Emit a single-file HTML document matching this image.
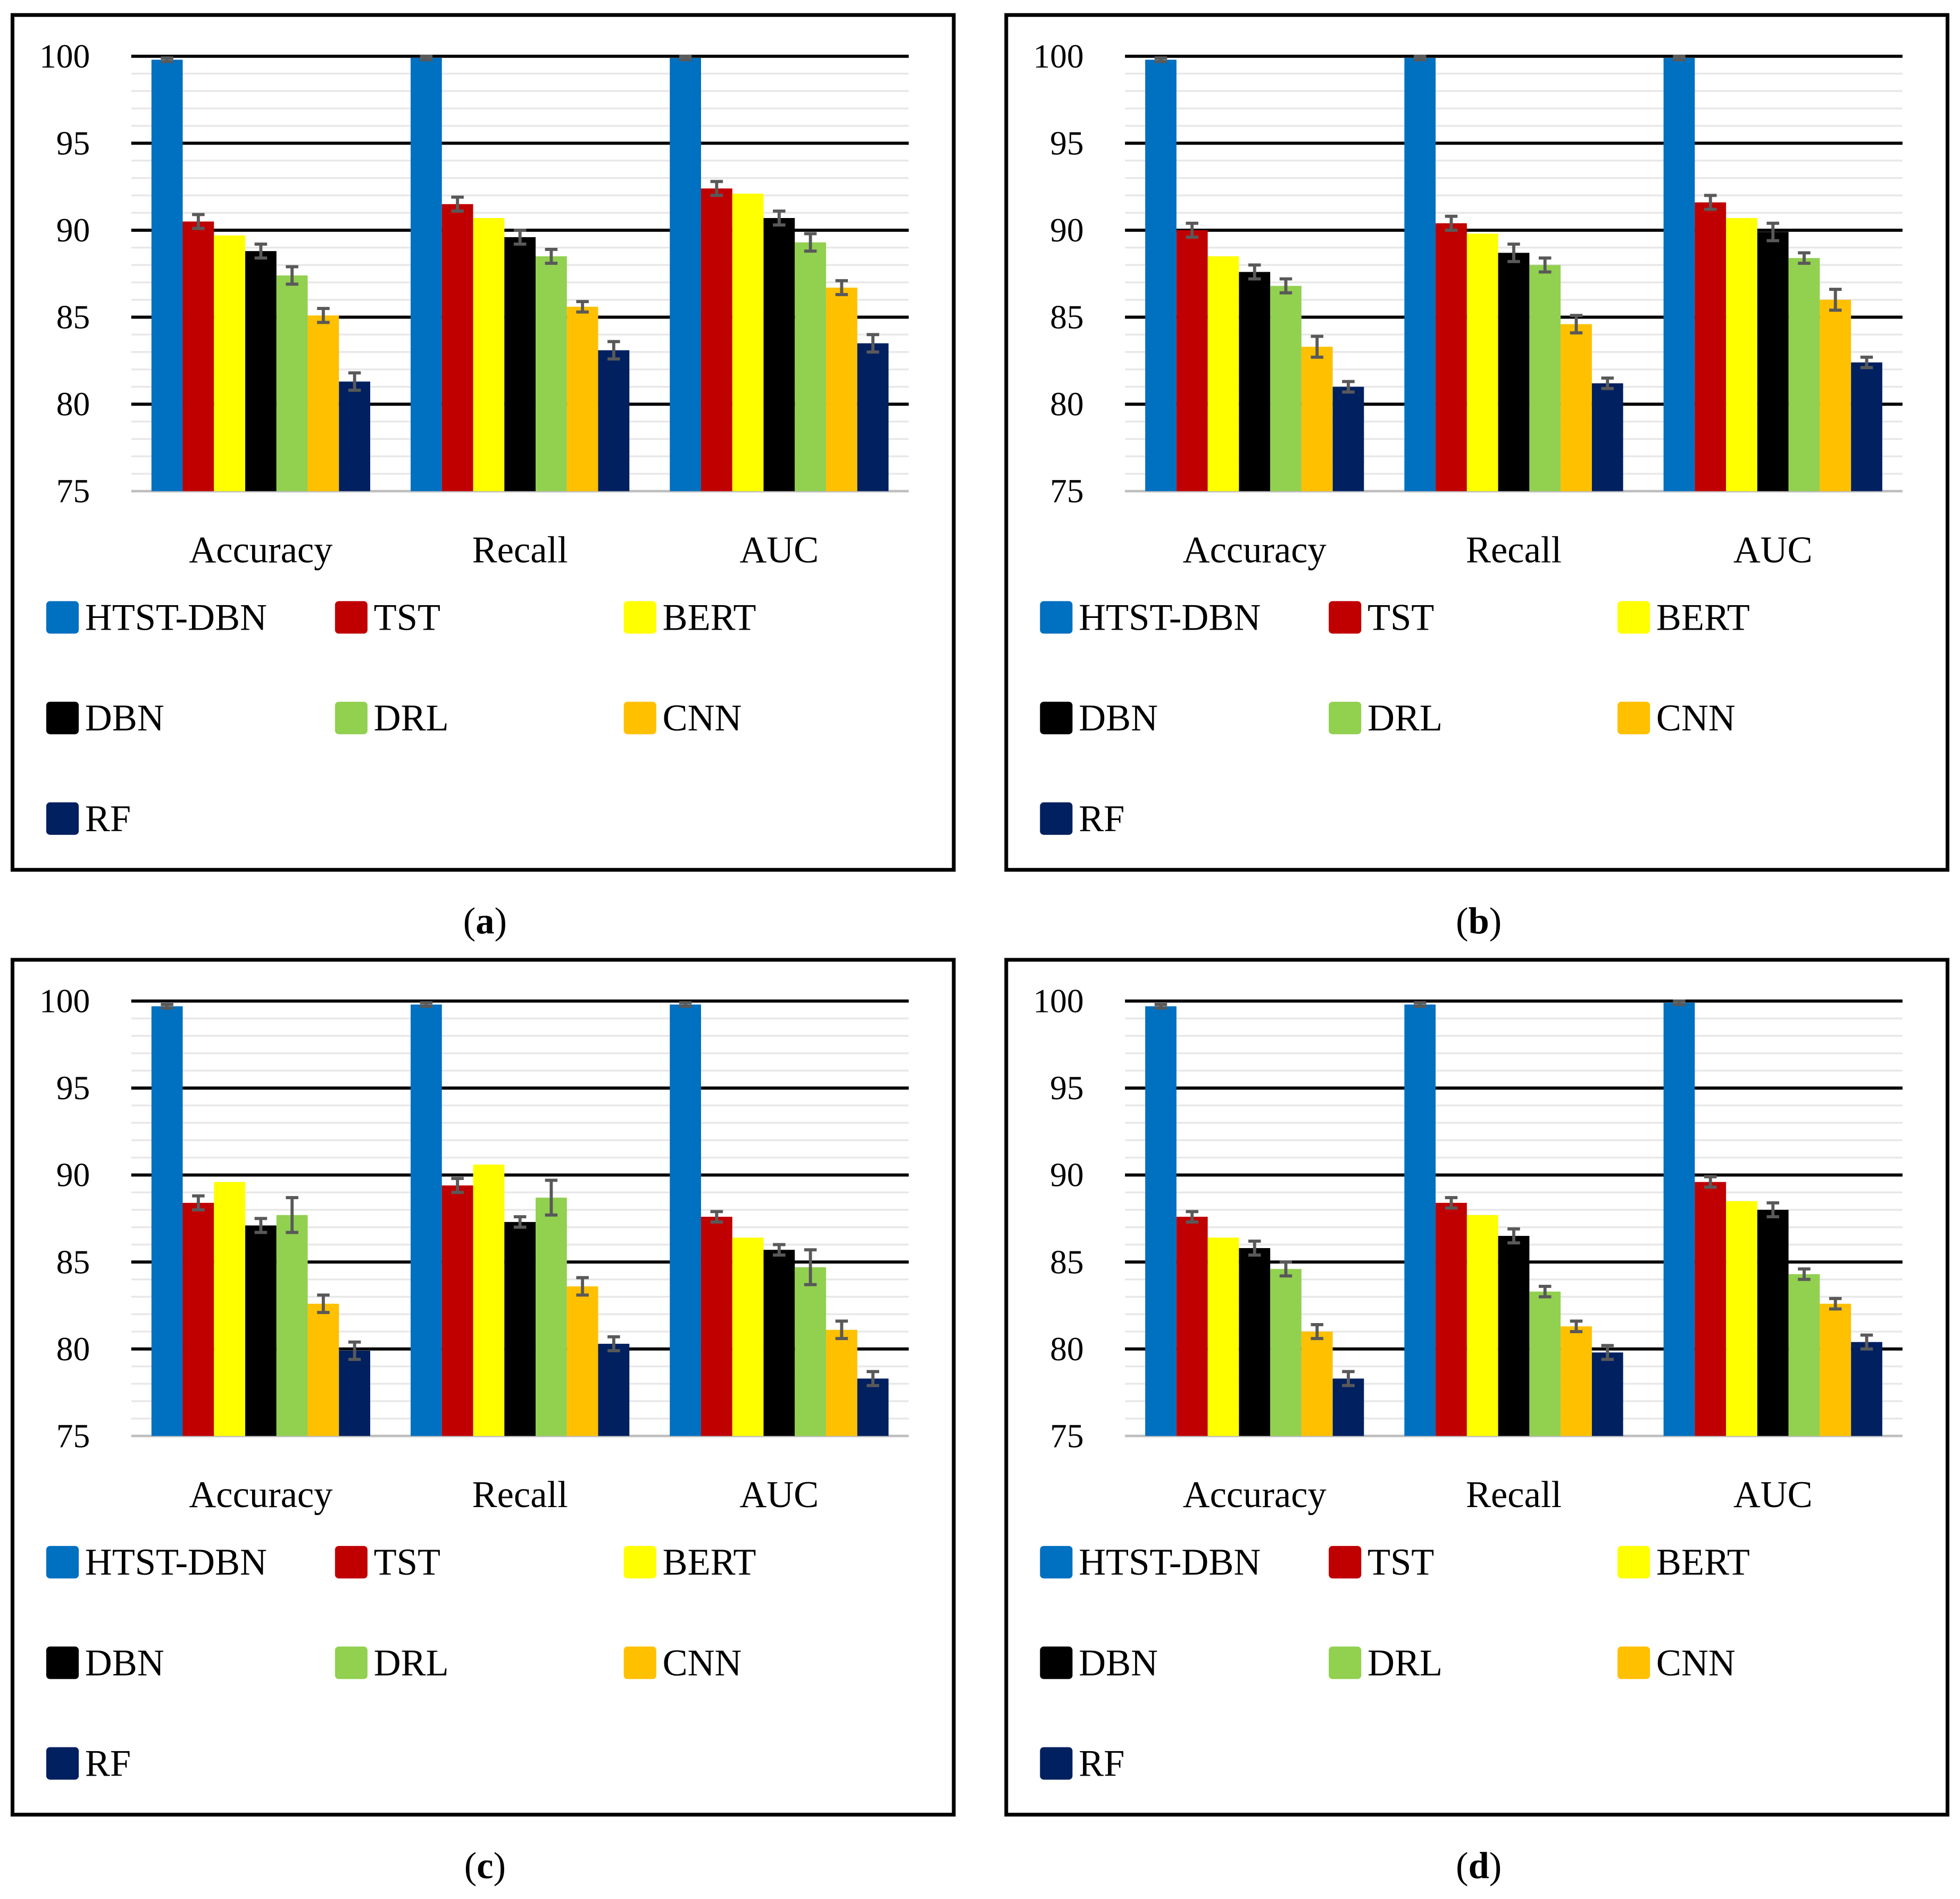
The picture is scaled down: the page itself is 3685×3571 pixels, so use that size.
<!DOCTYPE html>
<html><head><meta charset="utf-8"><style>
html,body{margin:0;padding:0;background:#fff}
svg{display:block}
text{font-family:"Liberation Serif",serif}
</style></head><body>
<svg id="root" width="3685" height="3571" viewBox="0 0 1568 1519.5" preserveAspectRatio="none" xmlns="http://www.w3.org/2000/svg"></svg>
<script>
const categories=["Accuracy","Recall","AUC"];
const series=["HTST-DBN","TST","BERT","DBN","DRL","CNN","RF"];
const colors=["#0070C0","#C00000","#FFFF00","#000000","#92D050","#FFC000","#002060"];
const yTicks=[75,80,85,90,95,100];
const panelLabels=["a","b","c","d"];
const valuesA=[[99.8,90.5,89.7,88.8,87.4,85.1,81.3],[99.9,91.5,90.7,89.6,88.5,85.6,83.1],[99.9,92.4,92.1,90.7,89.3,86.7,83.5]];
const valuesB=[[99.8,90.0,88.5,87.6,86.8,83.3,81.0],[99.9,90.4,89.8,88.7,88.0,84.6,81.2],[99.9,91.6,90.7,89.9,88.4,86.0,82.4]];
const valuesC=[[99.7,88.4,89.6,87.1,87.7,82.6,79.9],[99.8,89.4,90.6,87.3,88.7,83.6,80.3],[99.8,87.6,86.4,85.7,84.7,81.1,78.3]];
const valuesD=[[99.7,87.6,86.4,85.8,84.6,81.0,78.3],[99.8,88.4,87.7,86.5,83.3,81.3,79.8],[99.9,89.6,88.5,88.0,84.3,82.6,80.4]];
const errA=[[0.1,0.4,0,0.4,0.5,0.4,0.5],[0.1,0.4,0,0.4,0.4,0.3,0.5],[0.1,0.4,0,0.4,0.5,0.4,0.5]];
const errB=[[0.1,0.4,0,0.4,0.4,0.6,0.3],[0.1,0.4,0,0.5,0.4,0.5,0.3],[0.1,0.4,0,0.5,0.3,0.6,0.3]];
const errC=[[0.1,0.4,0,0.4,1.0,0.5,0.5],[0.1,0.4,0,0.3,1.0,0.5,0.4],[0.1,0.3,0,0.3,1.0,0.5,0.4]];
const errD=[[0.1,0.3,0,0.4,0.4,0.4,0.4],[0.1,0.3,0,0.4,0.3,0.3,0.4],[0.1,0.3,0,0.4,0.3,0.3,0.4]];
const allVals=[valuesA,valuesB,valuesC,valuesD];
const allErr=[errA,errB,errC,errD];
const NS="http://www.w3.org/2000/svg";
const root=document.getElementById('root');
function mk(tag,attrs,parent){const e=document.createElementNS(NS,tag);for(const k in attrs)e.setAttribute(k,attrs[k]);parent.appendChild(e);return e;}
const offsets=[[0,0],[795,0],[0,756],[795,756]];
offsets.forEach((o,p)=>{
  const g=mk('g',{transform:`translate(${o[0]},${o[1]})`},root);
  
  
  const box=mk('rect',{x:10,y:12,width:753,height:684,fill:'#fff',stroke:'#000','stroke-width':3},g);
  
  
  const x0=105,x1=727,yTop=45,yBot=393;
  const y=v=>yBot-(v-75)/25*(yBot-yTop);
  for(let v=76;v<100;v++){if(v%5===0)continue;
    const l=mk('line',{x1:x0,x2:x1,y1:y(v),y2:y(v),stroke:'#e8e8e8','stroke-width':1.5},g);
    
    }
  yTicks.forEach(v=>{
    const l=mk('line',{x1:x0,x2:x1,y1:y(v),y2:y(v),stroke:v===75?'#bfbfbf':'#000','stroke-width':v===75?2:2.5},g);
    
    
    const t=mk('text',{x:72,y:y(v)+9,'font-size':27,'text-anchor':'end'},g);
    t.textContent=v;
    
    
  });
  const gw=(x1-x0)/categories.length, bw=25;
  categories.forEach((c,ci)=>{
    const cx=x0+gw*(ci+0.5);
    const start=cx-bw*series.length/2;
    series.forEach((s,si)=>{
      const v=allVals[p][ci][si], e=allErr[p][ci][si];
      const bx=start+si*bw;
      const r=mk('rect',{x:bx,y:y(v),width:bw,height:yBot-y(v),fill:colors[si]},g);
      
      
      if(e>0){
        const mx=bx+bw/2;
        const eb=mk('path',{d:`M${mx},${y(v+e)}V${y(v-e)}M${mx-5},${y(v+e)}H${mx+5}M${mx-5},${y(v-e)}H${mx+5}`,stroke:'#595959','stroke-width':2.5,fill:'none'},g);
        
        
      }
    });
    const t=mk('text',{x:cx,y:450,'font-size':30,'text-anchor':'middle'},g);
    t.textContent=c;
    
    
  });
  series.forEach((s,si)=>{
    const lx=37+(si%3)*231, ly=494+Math.floor(si/3)*80.5;
    const sq=mk('rect',{x:lx,y:ly-13,width:26,height:26,rx:3,fill:colors[si]},g);
    
    
    const t=mk('text',{x:lx+31,y:ly+10,'font-size':30},g);
    t.textContent=s;
    
    
  });
  const cap=mk('text',{x:388,y:747,'font-size':30,'text-anchor':'middle'},g);
  cap.innerHTML='(<tspan font-weight="bold">'+panelLabels[p]+'</tspan>)';
  
  
});
</script>
</body></html>
